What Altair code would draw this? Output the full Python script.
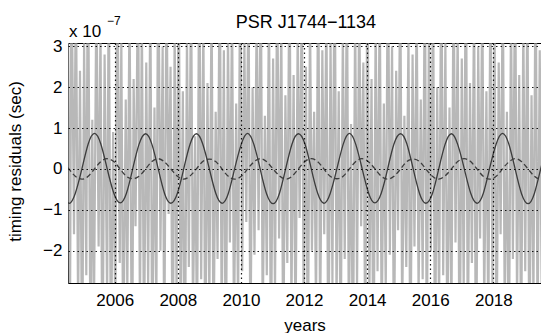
import altair as alt
import pandas as pd

# ---- data (residuals in units of 1e-7 s) ----
noise_t = [
    2004.52, 2004.58, 2004.63, 2004.71, 2004.77, 2004.84, 2004.90, 2004.97,
    2005.03, 2005.10, 2005.15, 2005.23, 2005.29, 2005.34, 2005.42, 2005.49, 2005.55, 2005.61, 2005.68, 2005.76, 2005.81, 2005.88, 2005.95,
    2006.02, 2006.08, 2006.16, 2006.21, 2006.27, 2006.35, 2006.40, 2006.47, 2006.55, 2006.60, 2006.66, 2006.74, 2006.80, 2006.86, 2006.93,
    2007.00, 2007.06, 2007.13, 2007.19, 2007.26, 2007.32, 2007.38, 2007.45, 2007.52, 2007.57, 2007.64, 2007.71, 2007.77, 2007.84, 2007.90, 2007.96,
    2008.03, 2008.09, 2008.16, 2008.22, 2008.29, 2008.35, 2008.42, 2008.48, 2008.55, 2008.61, 2008.68, 2008.74, 2008.81, 2008.87, 2008.94,
    2009.00, 2009.07, 2009.13, 2009.20, 2009.26, 2009.33, 2009.39, 2009.46, 2009.52, 2009.59, 2009.65, 2009.72, 2009.78, 2009.85, 2009.91, 2009.98,
    2010.04, 2010.11, 2010.17, 2010.24, 2010.30, 2010.37, 2010.43, 2010.50, 2010.56, 2010.63, 2010.69, 2010.76, 2010.82, 2010.89, 2010.95,
    2011.02, 2011.08, 2011.15, 2011.21, 2011.28, 2011.34, 2011.41, 2011.47, 2011.54, 2011.60, 2011.67, 2011.73, 2011.80, 2011.86, 2011.93, 2011.99,
    2012.06, 2012.12, 2012.19, 2012.25, 2012.32, 2012.38, 2012.45, 2012.51, 2012.58, 2012.64, 2012.71, 2012.77, 2012.84, 2012.90, 2012.97,
    2013.03, 2013.10, 2013.16, 2013.23, 2013.29, 2013.36, 2013.42, 2013.49, 2013.55, 2013.62, 2013.68, 2013.75, 2013.81, 2013.88, 2013.94,
    2014.01, 2014.07, 2014.14, 2014.20, 2014.27, 2014.33, 2014.40, 2014.46, 2014.53, 2014.59, 2014.66, 2014.72, 2014.79, 2014.85, 2014.92, 2014.98,
    2015.05, 2015.11, 2015.18, 2015.24, 2015.31, 2015.37, 2015.44, 2015.50, 2015.57, 2015.63, 2015.70, 2015.76, 2015.83, 2015.89, 2015.96,
    2016.02, 2016.09, 2016.15, 2016.22, 2016.28, 2016.35, 2016.41, 2016.48, 2016.54, 2016.61, 2016.67, 2016.74, 2016.80, 2016.87, 2016.93,
    2017.00, 2017.06, 2017.13, 2017.19, 2017.26, 2017.32, 2017.39, 2017.45, 2017.52, 2017.58, 2017.65, 2017.71, 2017.78, 2017.84, 2017.91, 2017.97,
    2018.04, 2018.10, 2018.17, 2018.23, 2018.30, 2018.36, 2018.43, 2018.49, 2018.56, 2018.62, 2018.69, 2018.75, 2018.82, 2018.88, 2018.95,
    2019.01, 2019.08, 2019.14, 2019.21, 2019.27, 2019.34, 2019.40, 2019.47, 2019.53, 2019.60,
]
noise_v = [
    3.9, -4.4, 5.2, -1.6, 4.7, -3.5, 2.4, -5.1,
    3.1, -2.6, 6.0, -4.2, 1.2, -3.9, 4.5, -1.9, 3.6, -5.5, 2.8, -3.2, 4.9, -4.8, 0.9,
    -3.6, 5.4, -2.3, 3.2, -4.9, 1.7, -3.0, 4.1, -5.6, 2.2, -1.4, 5.0, -3.7, 3.8, -4.5,
    2.6, -2.9, 4.4, -5.0, 1.5, -3.4, 5.7, -2.0, 3.0, -4.7, 4.6, -1.1, 2.5, -5.3, 3.5, -3.1,
    5.1, -4.0, 1.9, -5.8, 3.3, -2.4, 4.8, -3.6, 0.8, -4.3, 5.5, -2.7, 3.7, -5.0, 2.1,
    -3.3, 4.3, -4.6, 1.4, -2.2, 5.3, -3.9, 2.9, -5.4, 3.4, -1.8, 4.0, -4.1, 1.6, -3.5, 5.8,
    -2.5, 3.1, -1.3, 4.6, -4.4, 2.0, -2.1, 3.9, -1.5, 5.0, -3.8, 1.3, -2.6, 4.2, -5.2,
    2.7, -3.1, 4.9, -1.7, 3.6, -4.8, 1.8, -2.3, 5.4, -3.4, 2.3, -4.2, 3.5, -1.2, 4.4, -3.7,
    2.5, -5.0, 3.8, -2.0, 1.4, -3.5, 5.2, -4.0, 2.9, -1.6, 4.1, -5.5, 3.2, -2.8, 5.6,
    -3.3, 1.9, -4.7, 3.4, -2.2, 4.7, -3.9, 1.1, -5.1, 3.9, -2.9, 4.3, -1.4, 2.6, -4.5,
    5.3, -3.2, 2.2, -5.7, 3.7, -2.5, 4.5, -4.1, 1.6, -3.0, 5.9, -2.1, 3.0, -4.9, 2.4, -1.5,
    4.8, -3.6, 1.3, -2.4, 3.3, -5.3, 2.8, -1.9, 4.0, -3.1, 1.7, -2.7, 5.1, -4.6, 3.6,
    -2.0, 4.6, -5.0, 2.0, -3.5, 5.5, -2.6, 3.1, -4.3, 1.5, -3.8, 4.9, -1.8, 3.5, -5.4,
    2.7, -3.0, 5.7, -4.4, 2.1, -2.3, 4.2, -5.9, 3.0, -1.7, 4.4, -3.4, 1.9, -4.0, 5.0, -2.8,
    3.4, -4.8, 2.6, -1.6, 4.7, -3.7, 1.4, -5.2, 3.9, -2.2, 5.3, -3.3, 2.3, -4.6, 3.6,
    -2.5, 4.5, -5.0, 1.8, -3.2, 5.2, -4.0, 2.9, -2.9, 3.7,
]

fit_t = [
    2004.35, 2004.55, 2004.75, 2004.96, 2005.16, 2005.36, 2005.56, 2005.76,
    2005.97, 2006.17, 2006.37, 2006.57, 2006.77, 2006.98, 2007.18, 2007.38,
    2007.58, 2007.78, 2007.99, 2008.19, 2008.39, 2008.59, 2008.79, 2009.00,
    2009.20, 2009.40, 2009.60, 2009.80, 2010.01, 2010.21, 2010.41, 2010.61,
    2010.81, 2011.02, 2011.22, 2011.42, 2011.62, 2011.82, 2012.03, 2012.23,
    2012.43, 2012.63, 2012.83, 2013.04, 2013.24, 2013.44, 2013.64, 2013.84,
    2014.05, 2014.25, 2014.45, 2014.65, 2014.85, 2015.06, 2015.26, 2015.46,
    2015.66, 2015.86, 2016.07, 2016.27, 2016.47, 2016.67, 2016.87, 2017.08,
    2017.28, 2017.48, 2017.68, 2017.88, 2018.09, 2018.29, 2018.49, 2018.69,
    2018.89, 2019.10, 2019.30, 2019.50, 2019.70,
]
solid_v = [
    -0.60, -0.84, -0.60, 0.00, 0.61, 0.87, 0.61, 0.01,
    -0.59, -0.83, -0.60, 0.00, 0.60, 0.86, 0.60, 0.00,
    -0.60, -0.84, -0.59, 0.01, 0.61, 0.86, 0.61, 0.00,
    -0.59, -0.84, -0.60, 0.00, 0.60, 0.87, 0.60, 0.00,
    -0.60, -0.85, -0.60, 0.01, 0.61, 0.86, 0.61, 0.00,
    -0.59, -0.84, -0.60, 0.00, 0.60, 0.87, 0.60, 0.01,
    -0.60, -0.83, -0.59, 0.00, 0.61, 0.86, 0.61, 0.00,
    -0.60, -0.84, -0.60, 0.00, 0.60, 0.86, 0.60, 0.00,
    -0.59, -0.84, -0.60, 0.01, 0.61, 0.87, 0.61, 0.00,
    -0.60, -0.85, -0.60, 0.00, 0.60,
]
dashed_v = [
    0.18, 0.00, -0.18, -0.25, -0.18, 0.00, 0.18, 0.25,
    0.18, 0.00, -0.18, -0.24, -0.18, 0.00, 0.18, 0.25,
    0.17, 0.00, -0.18, -0.25, -0.17, 0.00, 0.18, 0.24,
    0.18, 0.00, -0.18, -0.25, -0.18, 0.00, 0.17, 0.25,
    0.18, 0.00, -0.17, -0.25, -0.18, 0.00, 0.18, 0.25,
    0.18, 0.00, -0.18, -0.24, -0.18, 0.00, 0.18, 0.25,
    0.17, 0.00, -0.18, -0.25, -0.18, 0.00, 0.18, 0.24,
    0.18, 0.00, -0.18, -0.25, -0.17, 0.00, 0.18, 0.25,
    0.18, 0.00, -0.18, -0.25, -0.18, 0.00, 0.17, 0.25,
    0.18, 0.00, -0.18, -0.25, -0.18,
]

x_ticks = [2006, 2008, 2010, 2012, 2014, 2016, 2018]
y_ticks = [-2, -1, 0, 1, 2, 3]
x_domain = [2004.52, 2019.51]
y_domain = [-2.79, 3.08]

FONT = "Liberation Sans"

noise_df = pd.DataFrame({"t": noise_t, "r": noise_v})
fit_df = pd.DataFrame({"t": fit_t, "s": solid_v, "d": dashed_v})

xs = alt.Scale(domain=x_domain, nice=False, zero=False)
ys = alt.Scale(domain=y_domain, nice=False, zero=False)

xaxis = alt.Axis(
    values=x_ticks, format="d", grid=True, gridColor="black", gridDash=[1.5, 3],
    gridWidth=1.2, gridOpacity=0.9, ticks=False, tickSize=0, domain=False,
    labelFont=FONT, labelFontSize=17, labelColor="black", labelPadding=17,
    labelBaseline="middle", title="years", titleFont=FONT, titleFontSize=17,
    titleFontWeight="normal", titleColor="black", titleY=42, titleBaseline="middle",
    zindex=1,
)
yaxis = alt.Axis(
    values=y_ticks, format="d", grid=True, gridColor="black", gridDash=[1.5, 3],
    gridWidth=1, gridOpacity=0.9, ticks=False, tickSize=0, domain=False,
    labelFont=FONT, labelFontSize=17, labelColor="black", labelPadding=6,
    title="timing residuals (sec)", titleFont=FONT, titleFontSize=17,
    titleFontWeight="normal", titleColor="black", titleX=-53, titleY=118,
    titleAngle=270, titleBaseline="middle", titleAlign="center", zindex=1,
)

noise = alt.Chart(noise_df).mark_line(
    clip=True, color="#9a9a9a", strokeWidth=2.2, opacity=0.7
).encode(
    x=alt.X("t:Q", scale=xs, axis=xaxis),
    y=alt.Y("r:Q", scale=ys, axis=yaxis),
)
solid = alt.Chart(fit_df).mark_line(
    clip=True, color="#3c3c3c", strokeWidth=1.3, interpolate="natural"
).encode(x=alt.X("t:Q", scale=xs), y=alt.Y("s:Q", scale=ys))
dashed = alt.Chart(fit_df).mark_line(
    clip=True, color="#3c3c3c", strokeWidth=1.3, strokeDash=[5, 3], interpolate="natural"
).encode(x=alt.X("t:Q", scale=xs), y=alt.Y("d:Q", scale=ys))

one = alt.Data(values=[{}])
title_txt = alt.Chart(one).mark_text(
    text="PSR J1744−1134", font=FONT, fontSize=18, color="black",
    align="center", baseline="middle",
).encode(x=alt.value(238), y=alt.value(-20.5))
mult_txt = alt.Chart(one).mark_text(
    text="x 10", font=FONT, fontSize=17, color="black", align="left", baseline="middle",
).encode(x=alt.value(1), y=alt.value(-11))
exp_txt = alt.Chart(one).mark_text(
    text="−7", font=FONT, fontSize=12, color="black", align="left", baseline="middle",
).encode(x=alt.value(39), y=alt.value(-22))

chart = alt.layer(noise, solid, dashed, title_txt, mult_txt, exp_txt).properties(
    width=473, height=240,
    autosize=alt.AutoSizeParams(type="none"),
    padding={"left": 68, "top": 43, "right": 0, "bottom": 50},
    background="white",
).configure_view(stroke="black", strokeWidth=1)

chart.save("out.html", embed_options={"renderer": "svg", "actions": False})
